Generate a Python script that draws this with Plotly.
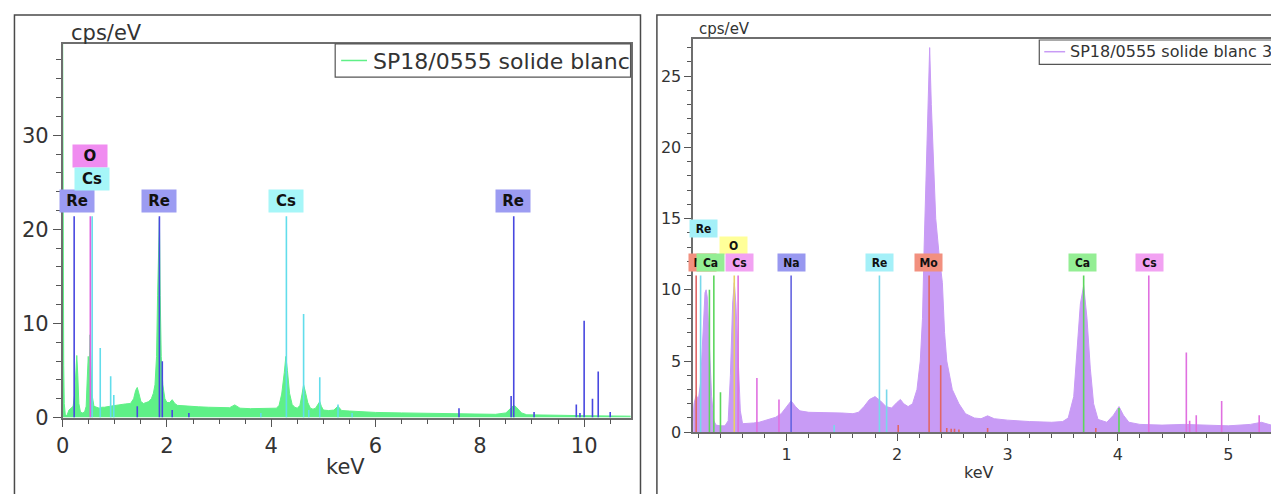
import plotly.graph_objects as go

# ---------------- LEFT SPECTRUM (keV, cps/eV) ----------------
left_E = [0.0, 0.005, 0.012, 0.02, 0.03, 0.05, 0.08, 0.12, 0.16, 0.2, 0.23, 0.25, 0.27, 0.29, 0.31,
          0.34, 0.38, 0.42, 0.45, 0.47, 0.49, 0.51, 0.525, 0.54, 0.56, 0.6, 0.65, 0.7, 0.75, 0.8,
          0.9, 1.0, 1.1, 1.2, 1.3, 1.36, 1.4, 1.43, 1.46, 1.5, 1.55, 1.6, 1.65, 1.7, 1.74, 1.77,
          1.8, 1.82, 1.84, 1.855, 1.87, 1.89, 1.92, 1.96, 2.0, 2.05, 2.1, 2.15, 2.2, 2.3, 2.4,
          2.5, 2.6, 2.8, 3.0, 3.2, 3.3, 3.4, 3.6, 3.8, 4.0, 4.1, 4.15, 4.2, 4.25, 4.28, 4.31,
          4.35, 4.4, 4.45, 4.5, 4.55, 4.59, 4.62, 4.66, 4.7, 4.75, 4.8, 4.85, 4.9, 4.93, 4.96,
          5.0, 5.1, 5.2, 5.28, 5.35, 5.5, 5.75, 6.0, 6.5, 7.0, 7.5, 8.0, 8.3, 8.5, 8.6, 8.65,
          8.7, 8.8, 8.9, 9.2, 9.5, 10.0, 10.5, 10.9]
left_cps = [40, 32.5, 6, 5.5, 1.5, 0.3, 0.2, 0.8, 1.0, 1.2, 2.5, 5.0, 6.6, 4.5, 1.5,
            0.6, 0.5, 0.6, 1.2, 4.0, 6.5, 5, 8.8, 6, 2.5, 1.2, 1.1, 1.0, 1.1, 1.1,
            1.2, 1.3, 1.4, 1.45, 1.5, 2.0, 2.9, 3.2, 2.6, 1.7, 1.5, 1.6, 1.7, 2.0, 2.6, 3.5,
            6.5, 13, 17.2, 21.2, 13, 6.5, 3.5, 2.0, 1.6, 1.6, 1.9, 1.5, 1.3, 1.25, 1.25,
            1.2, 1.15, 1.1, 1.05, 1.05, 1.35, 1.0, 0.95, 0.95, 0.95, 1.0, 1.3, 2.5, 4.8, 6.5, 5.0,
            2.6, 1.4, 1.1, 1.0, 1.3, 2.5, 3.5, 2.6, 1.6, 1.0, 0.9, 1.0, 1.4, 1.7, 1.2,
            0.8, 0.75, 0.8, 1.2, 0.75, 0.7, 0.6, 0.55, 0.5, 0.45, 0.4, 0.35, 0.35, 0.5, 1.0, 1.3,
            1.1, 0.5, 0.3, 0.25, 0.25, 0.2, 0.2, 0.15]

# element marker lines (left)
left_line_el = ["Re", "O", "Cs", "Re", "Cs", "Re", "Cs", "Cs", "Cs", "Re", "Re", "Re", "Re", "Cs",
                "Cs", "Cs", "Cs", "Cs", "Cs", "Re", "Re", "Re", "Re", "Re", "Re", "Re", "Re", "Re"]
left_line_E = [0.22, 0.53, 0.565, 1.855, 4.29, 8.65, 0.72, 0.92, 0.98, 1.43, 1.91, 2.1, 2.42, 3.8,
               4.62, 4.72, 4.93, 5.28, 5.55, 7.6, 8.6, 9.04, 9.85, 9.92, 10.0, 10.16, 10.27, 10.5]
left_line_H = [21.4, 21.4, 21.4, 21.4, 21.4, 21.4, 7.4, 4.4, 2.4, 1.2, 6.0, 0.8, 0.5, 0.5,
               11.0, 0.8, 4.3, 1.4, 0.5, 1.0, 2.3, 0.6, 1.4, 0.5, 10.3, 2.0, 4.9, 0.6]

left_label_el = ["Re", "O", "Cs", "Re", "Cs", "Re"]
left_label_E = [0.27, 0.515, 0.57, 1.85, 4.29, 8.64]
left_label_Y = [23.0, 27.8, 25.4, 23.0, 23.0, 23.0]

# ---------------- RIGHT SPECTRUM ----------------
right_E = [0.15, 0.16, 0.18, 0.2, 0.22, 0.24, 0.26, 0.27, 0.28, 0.30, 0.32, 0.34, 0.36, 0.40, 0.44,
           0.47, 0.49, 0.51, 0.525, 0.54, 0.56, 0.58, 0.60, 0.65, 0.7, 0.75, 0.8, 0.85, 0.9, 0.95,
           1.0, 1.04, 1.08, 1.12, 1.2, 1.3, 1.4, 1.5, 1.6, 1.65, 1.7, 1.75, 1.8, 1.85, 1.9, 1.95,
           2.0, 2.03, 2.06, 2.1, 2.14, 2.18, 2.21, 2.23, 2.245, 2.265, 2.28, 2.295, 2.31, 2.33,
           2.35, 2.38, 2.41, 2.43, 2.45, 2.5, 2.56, 2.62, 2.7, 2.76, 2.82, 2.88, 3.0, 3.2, 3.4,
           3.5, 3.55, 3.6, 3.63, 3.66, 3.69, 3.72, 3.75, 3.78, 3.82, 3.9, 3.96, 4.01, 4.05, 4.1,
           4.2, 4.4, 4.6, 4.8, 5.0, 5.2, 5.3, 5.39]
right_cps = [0.8, 2.0, 2.6, 2.3, 3.5, 7, 9.8, 10, 9.5, 6, 2.5, 0.8, 0.5, 0.45, 0.45,
             0.8, 4, 9, 10.5, 9, 5, 1.5, 0.6, 0.6, 0.65, 0.7, 0.8, 0.9, 1.05, 1.3,
             1.8, 2.2, 1.8, 1.5, 1.4, 1.4, 1.4, 1.35, 1.3, 1.4, 1.8, 2.3, 2.5, 2.2, 1.8, 1.7,
             2.1, 2.3, 2.0, 1.8, 2.0, 3.0, 5, 8, 13, 19, 24, 27, 23, 19,
             15, 12.5, 10.5, 7, 5, 3, 2, 1.3, 1.0, 0.95, 1.15, 0.95, 0.85, 0.75, 0.7,
             0.75, 1.0, 2.5, 5.5, 9, 10.3, 8, 4.5, 2, 0.9, 0.7, 1.2, 1.8, 1.2, 0.7,
             0.55, 0.5, 0.55, 0.5, 0.45, 0.55, 0.7, 0.5]

right_line_el = ["Mo", "Re", "Ca", "Ca", "Ca", "O", "Cs", "Cs", "Cs", "Na", "Re", "Re", "Re", "Mo",
                 "Mo", "Mo", "Mo", "Mo", "Mo", "Mo", "Mo", "Ca", "Mo", "Ca", "Cs", "Cs", "Cs", "Cs",
                 "Cs", "Cs"]
right_line_E = [0.18, 0.22, 0.30, 0.34, 0.40, 0.525, 0.56, 0.73, 0.93, 1.04, 1.43, 1.84, 1.905, 2.01,
                2.29, 2.395, 2.45, 2.49, 2.52, 2.56, 2.82, 3.69, 3.8, 4.01, 4.28, 4.62, 4.65, 4.71,
                4.94, 5.28]
right_line_H = [11, 11, 10, 11, 2.8, 11, 11, 3.8, 2.3, 11, 0.5, 11, 3.0, 0.5,
                11, 4.7, 0.3, 0.25, 0.25, 0.2, 0.3, 11, 0.3, 1.7, 11, 5.6, 0.8, 1.2,
                2.2, 1.2]

right_label_el = ["Mo", "Re", "O", "Ca", "Cs", "Na", "Re", "Mo", "Ca", "Cs"]
right_label_E = [0.24, 0.245, 0.52, 0.31, 0.57, 1.04, 1.84, 2.28, 3.68, 4.29]
right_label_Y = [11.9, 14.3, 13.1, 11.9, 11.9, 11.9, 11.9, 11.9, 11.9, 11.9]

series_left = "SP18/0555 solide blanc"
series_right = "SP18/0555 solide blanc 3"

# ---------------- STYLES ----------------
W, H = 1271, 494
FONT = "DejaVu Sans, Verdana, sans-serif"
FONT_C = "DejaVu Sans Condensed, DejaVu Sans, sans-serif"
TXT = "#333333"
GREEN = "rgb(95,240,135)"
LAV = "rgb(200,155,245)"

left_line_col = {"Re": "#4848E0", "Cs": "#62DDEB", "O": "#E060E0"}
left_bg_col = {"Re": "#9C9CF2", "Cs": "#A6F6F8", "O": "#F08CF0"}
right_line_col = {"Mo": "#E06666", "Re": "#78D8EA", "Ca": "#5CD65C", "O": "#E8D266",
                  "Cs": "#E070E0", "Na": "#6464E0"}
right_bg_col = {"Mo": "#F2907F", "Re": "#A4F0F8", "Ca": "#94EE94", "O": "#FFFF99",
                "Cs": "#F2A2F2", "Na": "#9898F0"}


def px_x(v):
    return v / W


def px_y(v):
    return (H - v) / H


fig = go.Figure()

# spectra
fig.add_trace(go.Scatter(x=left_E, y=left_cps, mode="lines", fill="tozeroy",
                         line=dict(color=GREEN, width=1), fillcolor=GREEN,
                         xaxis="x", yaxis="y", showlegend=False, name=series_left))
fig.add_trace(go.Scatter(x=right_E, y=right_cps, mode="lines", fill="tozeroy",
                         line=dict(color=LAV, width=1), fillcolor=LAV,
                         xaxis="x2", yaxis="y2", showlegend=False, name=series_right))


def add_lines(els, es, hs, colmap, xa, ya):
    for el in colmap:
        xs, ys = [], []
        for e_, x_, h_ in zip(els, es, hs):
            if e_ == el:
                xs += [x_, x_, None]
                ys += [0, h_, None]
        if xs:
            fig.add_trace(go.Scatter(x=xs, y=ys, mode="lines",
                                     line=dict(color=colmap[el], width=1.6),
                                     xaxis=xa, yaxis=ya, showlegend=False,
                                     hoverinfo="skip"))


add_lines(left_line_el, left_line_E, left_line_H, left_line_col, "x", "y")
add_lines(right_line_el, right_line_E, right_line_H, right_line_col, "x2", "y2")

annotations = []
for el, e, y in zip(left_label_el, left_label_E, left_label_Y):
    annotations.append(dict(x=e, y=y, xref="x", yref="y", text="<b>%s</b>" % el,
                            showarrow=False, bgcolor=left_bg_col[el], borderpad=2,
                            width=30, height=18, xanchor="center", yanchor="middle",
                            font=dict(family=FONT, size=15, color="#111")))
for el, e, y in zip(right_label_el, right_label_E, right_label_Y):
    annotations.append(dict(x=e, y=y, xref="x2", yref="y2", text="<b>%s</b>" % el,
                            showarrow=False, bgcolor=right_bg_col[el], borderpad=2,
                            width=23, height=13, xanchor="center", yanchor="middle",
                            font=dict(family=FONT_C, size=12, color="#111")))


def txt(xp, yp, s, size, anchor="center"):
    return dict(x=px_x(xp), y=px_y(yp), xref="paper", yref="paper", text=s, showarrow=False,
                xanchor=anchor, yanchor="middle", font=dict(family=FONT, size=size, color=TXT))


annotations += [
    txt(100, 34, "cps/eV", 21),
    txt(340, 479, "keV", 21),
    txt(721, 30, "cps/eV", 15),
    txt(977, 484, "keV", 16),
    txt(366, 63, series_left, 22, "left"),
    txt(1067, 53, series_right, 16, "left"),
]

shapes = [
    # outer panel frames
    dict(type="rect", xref="paper", yref="paper", x0=px_x(7.5), x1=px_x(637), y0=-0.2, y1=px_y(15.5),
         line=dict(color="#4a4a4a", width=1.5)),
    dict(type="rect", xref="paper", yref="paper", x0=px_x(653.5), x1=1.2, y0=-0.2, y1=px_y(15.5),
         line=dict(color="#4a4a4a", width=1.5)),
    # legend boxes
    dict(type="rect", xref="paper", yref="paper", x0=px_x(330), x1=px_x(627), y0=px_y(79), y1=px_y(45),
         line=dict(color="#555", width=1.2), fillcolor="white"),
    dict(type="line", xref="paper", yref="paper", x0=px_x(336), x1=px_x(362), y0=px_y(62), y1=px_y(62),
         line=dict(color=GREEN, width=1.5)),
    dict(type="rect", xref="paper", yref="paper", x0=px_x(1038), x1=1.1, y0=px_y(66), y1=px_y(41),
         line=dict(color="#555", width=1.2), fillcolor="white"),
    dict(type="line", xref="paper", yref="paper", x0=px_x(1043), x1=px_x(1064), y0=px_y(53), y1=px_y(53),
         line=dict(color=LAV, width=1.5)),
]

axis_common = dict(showline=True, linecolor="#6e6e6e", linewidth=1.5, ticks="outside",
                   tickcolor="#555", tickwidth=1.2, showgrid=False, zeroline=False)

fig.update_layout(
    width=W, height=H, margin=dict(l=0, r=0, t=0, b=0),
    paper_bgcolor="white", plot_bgcolor="white", showlegend=False,
    xaxis=dict(domain=[px_x(56), px_x(627)], range=[0, 10.89], anchor="y", mirror=True,
               tick0=0, dtick=2, ticklen=8,
               minor=dict(dtick=0.5, ticklen=5, ticks="outside", tickcolor="#555"),
               tickfont=dict(family=FONT, size=21, color=TXT), **axis_common),
    yaxis=dict(domain=[px_y(428), px_y(45)], range=[0, 39.7], anchor="x", mirror=True,
               tick0=0, dtick=10, ticklen=8,
               minor=dict(dtick=2, ticklen=5, ticks="outside", tickcolor="#555"),
               tickfont=dict(family=FONT, size=21, color=TXT), **axis_common),
    xaxis2=dict(domain=[px_x(690), 1.0], range=[0.153, 5.387], anchor="y2", mirror=True,
                tick0=0, dtick=1, ticklen=7,
                minor=dict(dtick=0.2, ticklen=4, ticks="outside", tickcolor="#555"),
                tickfont=dict(family=FONT, size=16, color=TXT), **axis_common),
    yaxis2=dict(domain=[px_y(443), px_y(40)], range=[0, 27.6], anchor="x2", mirror=False,
                tick0=0, dtick=5, ticklen=7,
                minor=dict(dtick=1, ticklen=4, ticks="outside", tickcolor="#555"),
                tickfont=dict(family=FONT, size=16, color=TXT), **axis_common),
    annotations=annotations, shapes=shapes,
)

# the page's default 8px body margin would push the 1271x494 figure out of the window
fig.write_html("out.html", config={"displayModeBar": False},
               post_script="document.body.style.margin='0';")
